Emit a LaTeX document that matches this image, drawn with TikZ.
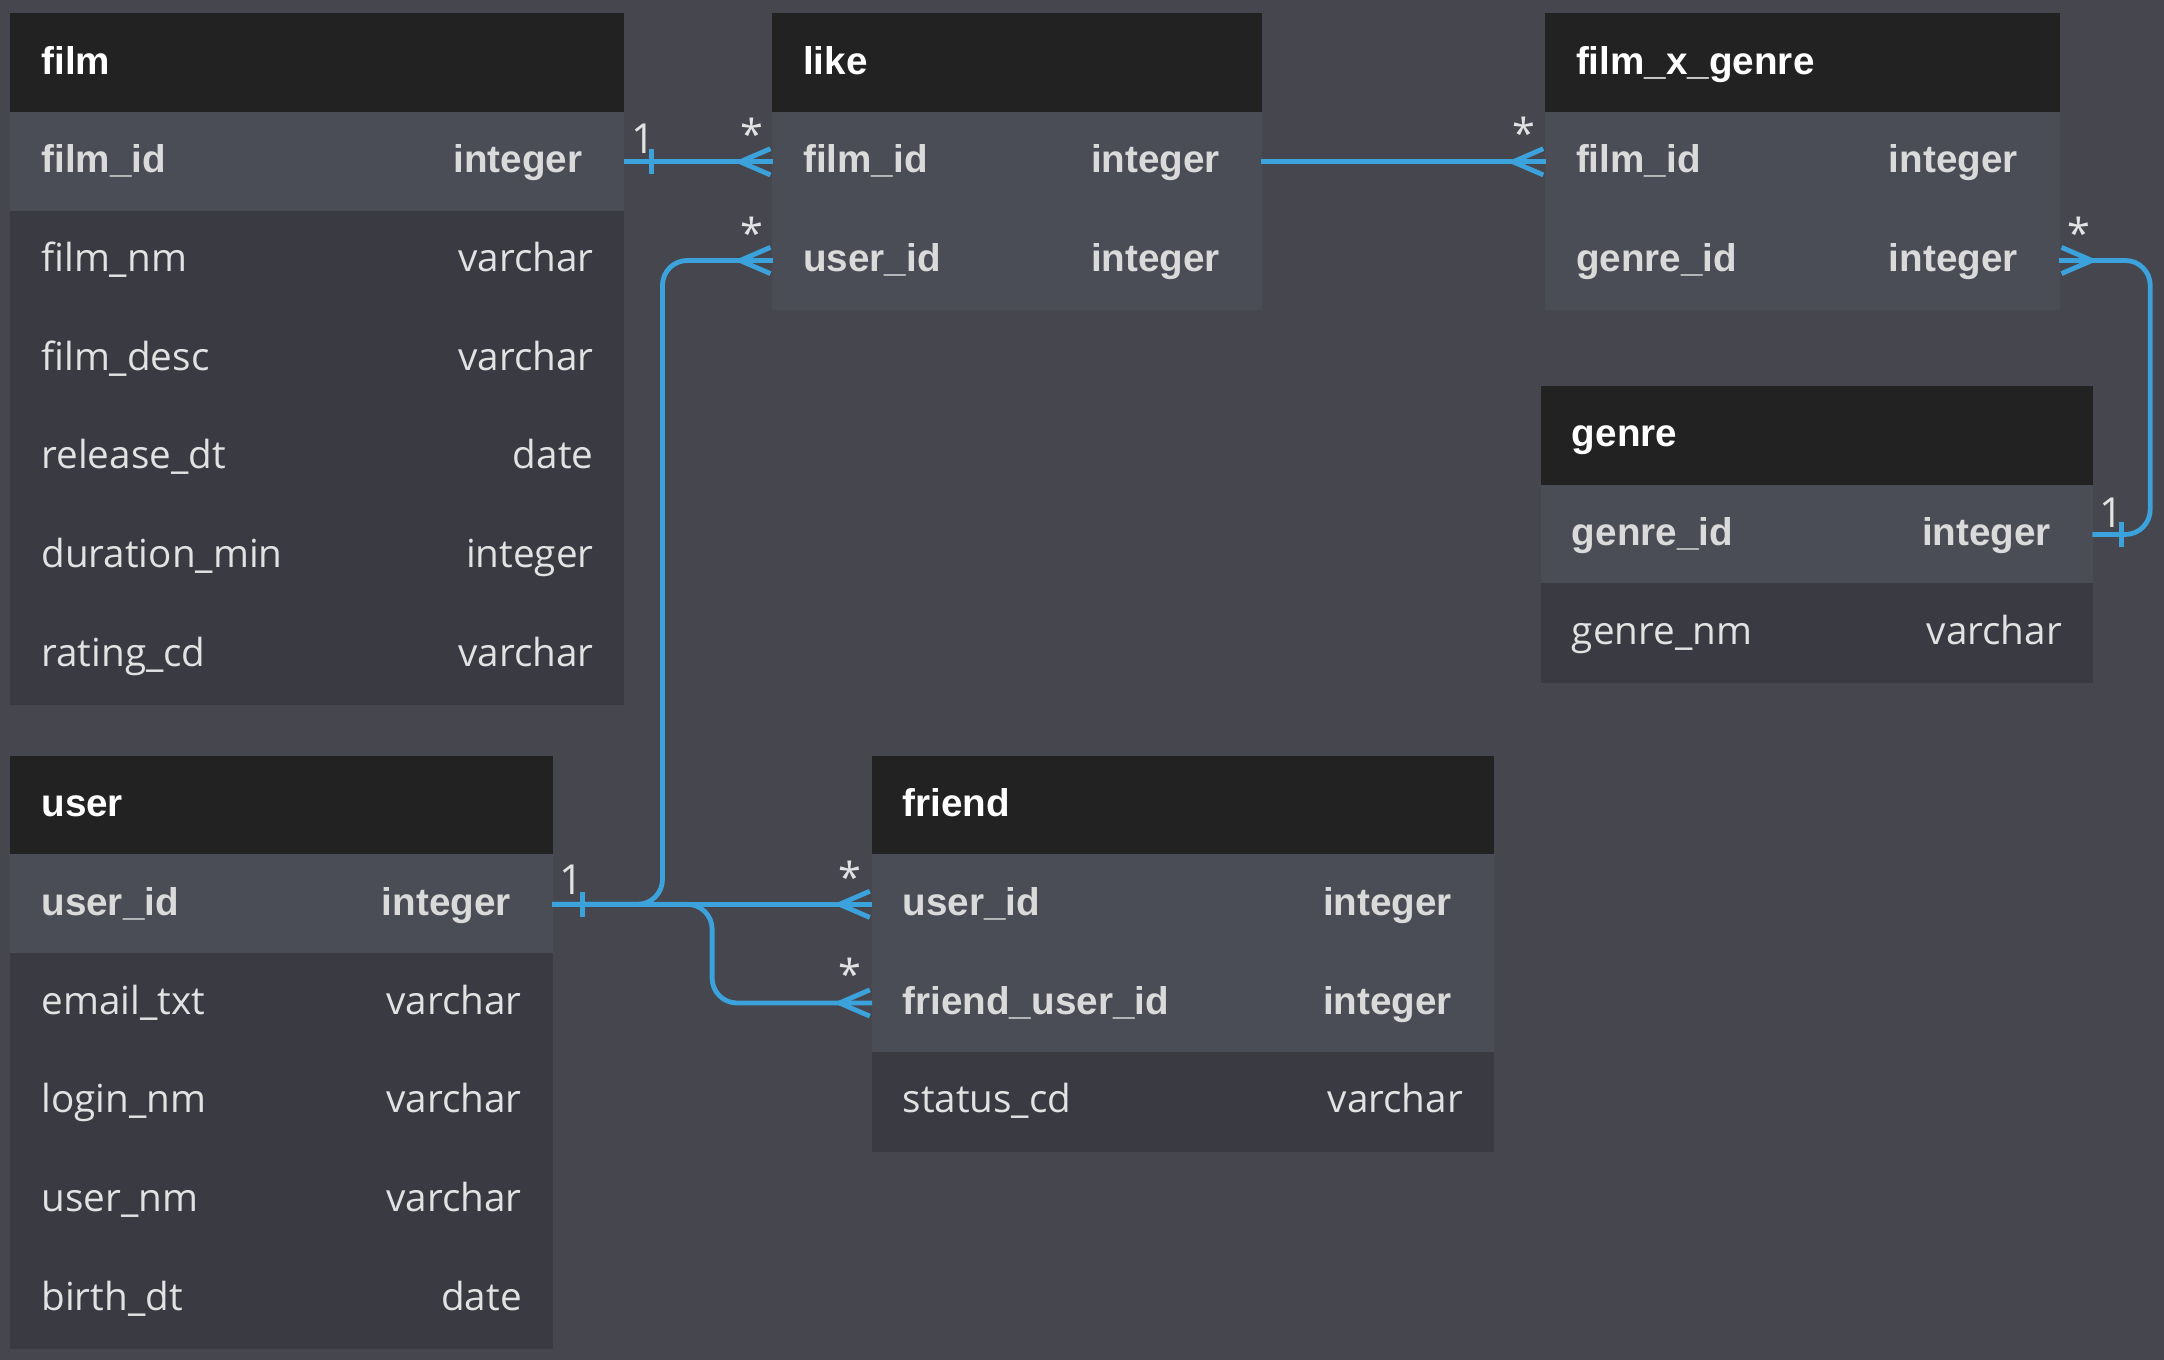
\documentclass[tikz,border=0pt]{standalone}
\usepackage{fontspec}
\setmainfont{Open Sans}
\newfontfamily\keyfont{Liberation Sans}
\usetikzlibrary{arrows.meta,positioning,decorations.markings}

\definecolor{canvas}{HTML}{45464E}
\definecolor{headbg}{HTML}{222222}
\definecolor{keybg}{HTML}{4A4D55}
\definecolor{rowbg}{HTML}{393A42}
\definecolor{rowtxt}{HTML}{E2E2E2}
\definecolor{keytxt}{HTML}{DADADA}
\definecolor{linkblue}{HTML}{3BA2DC}

\begin{document}
\begin{tikzpicture}[x=1pt,y=-1pt,
  tbl/.style={anchor=north west, minimum height=71.5pt, inner xsep=22pt, inner ysep=0pt,
    outer sep=0pt, line width=0.8pt, text width=#1, text height=22pt, text depth=6pt},
  head/.style={fill=headbg, draw=headbg, text=white, font=\keyfont\bfseries\fontsize{28}{34}\selectfont},
  key/.style={fill=keybg, draw=keybg, text=keytxt, font=\keyfont\bfseries\fontsize{28}{34}\selectfont,
    execute at end node={\hspace*{8pt}}},
  col/.style={fill=rowbg, draw=rowbg, text=rowtxt, font=\fontsize{28}{34}\selectfont},
  link/.style={draw=linkblue, line width=3.5pt},
  card/.style={text=rowtxt, font=\fontsize{30}{34}\selectfont, inner sep=0pt},
  crow/.tip={Straight Barb[reversed,length=22pt,width=19pt]},
  many/.style={postaction={decorate, decoration={markings,
    mark=at position 1 with {\arrow{crow}}}}},
]
  \fill[canvas] (0,0) rectangle (1568,985.4);
  \useasboundingbox (0,0) rectangle (1568,985.4);

  % film
  \node[tbl=400pt, head] (film-head) at (8,10) {film};
  \node[tbl=400pt, key, below=0pt of film-head] (film-id) {film\_id\hfill integer};
  \node[tbl=400pt, col, below=0pt of film-id] (film-nm) {film\_nm\hfill varchar};
  \node[tbl=400pt, col, below=0pt of film-nm] (film-desc) {film\_desc\hfill varchar};
  \node[tbl=400pt, col, below=0pt of film-desc] (film-rel) {release\_dt\hfill date};
  \node[tbl=400pt, col, below=0pt of film-rel] (film-dur) {duration\_min\hfill integer};
  \node[tbl=400pt, col, below=0pt of film-dur] (film-rate) {rating\_cd\hfill varchar};

  % like
  \node[tbl=310pt, head] (like-head) at (560,10) {like};
  \node[tbl=310pt, key, below=0pt of like-head] (like-film) {film\_id\hfill integer};
  \node[tbl=310pt, key, below=0pt of like-film] (like-user) {user\_id\hfill integer};

  % film_x_genre
  \node[tbl=328pt, head] (fxg-head) at (1120,10) {film\_x\_genre};
  \node[tbl=328pt, key, below=0pt of fxg-head] (fxg-film) {film\_id\hfill integer};
  \node[tbl=328pt, key, below=0pt of fxg-film] (fxg-genre) {genre\_id\hfill integer};

  % genre
  \node[tbl=355pt, head] (genre-head) at (1117,280) {genre};
  \node[tbl=355pt, key, below=0pt of genre-head] (genre-id) {genre\_id\hfill integer};
  \node[tbl=355pt, col, below=0pt of genre-id] (genre-nm) {genre\_nm\hfill varchar};

  % user
  \node[tbl=348pt, head] (user-head) at (8,548) {user};
  \node[tbl=348pt, key, below=0pt of user-head] (user-id) {user\_id\hfill integer};
  \node[tbl=348pt, col, below=0pt of user-id] (user-mail) {email\_txt\hfill varchar};
  \node[tbl=348pt, col, below=0pt of user-mail] (user-login) {login\_nm\hfill varchar};
  \node[tbl=348pt, col, below=0pt of user-login] (user-nm) {user\_nm\hfill varchar};
  \node[tbl=348pt, col, below=0pt of user-nm] (user-birth) {birth\_dt\hfill date};

  % friend
  \node[tbl=406pt, head] (friend-head) at (632,548) {friend};
  \node[tbl=406pt, key, below=0pt of friend-head] (friend-user) {user\_id\hfill integer};
  \node[tbl=406pt, key, below=0pt of friend-user] (friend-fuid) {friend\_user\_id\hfill integer};
  \node[tbl=406pt, col, below=0pt of friend-fuid] (friend-status) {status\_cd\hfill varchar};

  % relations
  \draw[link, many] (film-id.east) -- (like-film.west);
  \draw[link, many] (like-film.east) -- (fxg-film.west);
  \draw[link, many, rounded corners=18pt] (user-id.east) -- ++(80,0) |- (like-user.west);
  \draw[link, many] (user-id.east) -- (friend-user.west);
  \draw[link, many, rounded corners=18pt] (user-id.east) -- ++(116,0) |- (friend-fuid.west);
  \draw[link, many, rounded corners=18pt] (genre-id.east) -- ++(42,0) |- (fxg-genre.east);

  % one side ticks
  \draw[link] ([xshift=20pt,yshift=9pt]film-id.east) -- ++(0,-18pt);
  \draw[link] ([xshift=22pt,yshift=9pt]user-id.east) -- ++(0,-18pt);
  \draw[link] ([xshift=21pt,yshift=9pt]genre-id.east) -- ++(0,-18pt);

  % cardinalities
  \node[card] at ([xshift=14pt,yshift=17pt]film-id.east) {1};
  \node[card] at ([xshift=-15pt,yshift=20pt]like-film.west) {*};
  \node[card] at ([xshift=-15pt,yshift=20pt]like-user.west) {*};
  \node[card] at ([xshift=-16pt,yshift=21pt]fxg-film.west) {*};
  \node[card] at ([xshift=14pt,yshift=20pt]fxg-genre.east) {*};
  \node[card] at ([xshift=14pt,yshift=16pt]genre-id.east) {1};
  \node[card] at ([xshift=14pt,yshift=18pt]user-id.east) {1};
  \node[card] at ([xshift=-16pt,yshift=20pt]friend-user.west) {*};
  \node[card] at ([xshift=-16pt,yshift=21pt]friend-fuid.west) {*};
\end{tikzpicture}
\end{document}
